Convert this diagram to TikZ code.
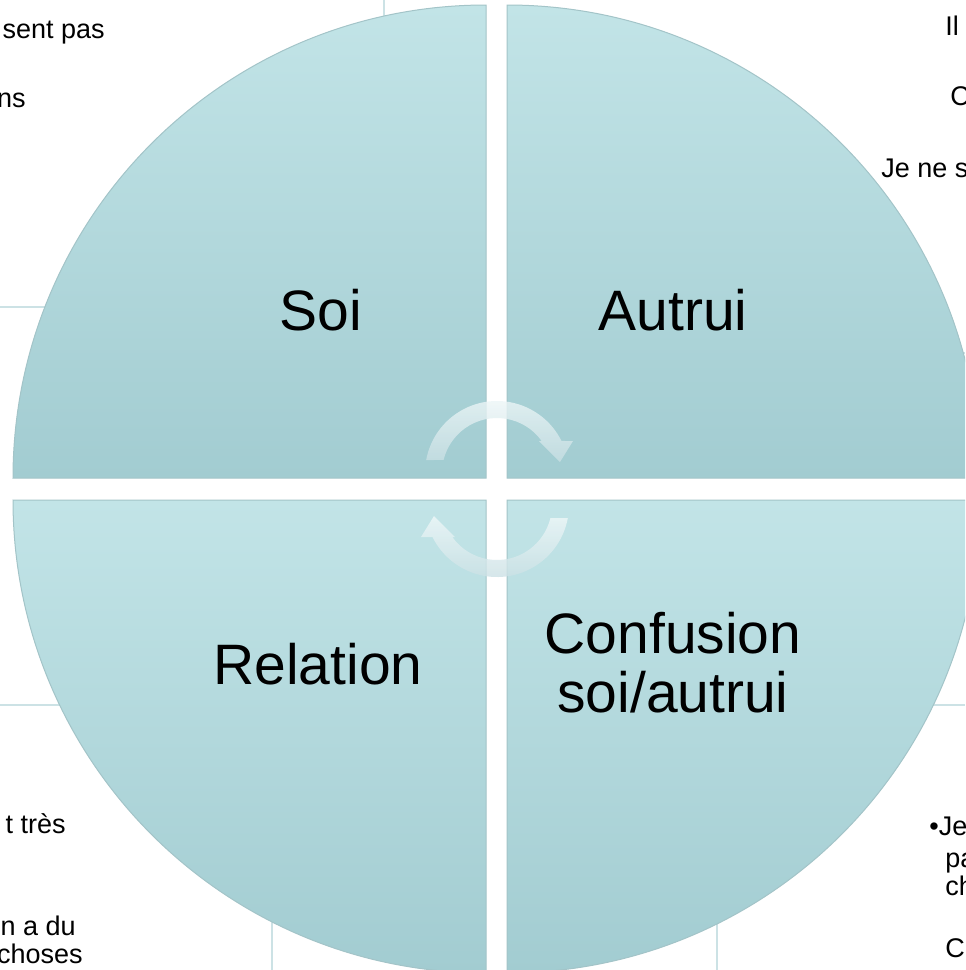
\documentclass[tikz,border=0pt]{standalone}
\usepackage{fontspec}
\setmainfont{Liberation Sans}
\usepackage{tikz}
\usetikzlibrary{positioning,calc}

\definecolor{quadtop}{HTML}{C2E4E7}
\definecolor{quadbot}{HTML}{A2CCD1}
\definecolor{quadedge}{HTML}{A3C4C8}
\definecolor{gridline}{HTML}{CCE2E5}
\definecolor{arrowtop}{HTML}{F0F8F9}
\definecolor{arrowbot}{HTML}{C8DFE3}

\tikzset{
    quadrant/.style={top color=quadtop, bottom color=quadbot, draw=quadedge, line width=0.5pt},
    biglabel/.style={font=\fontsize{28.5}{29.5}\selectfont, align=center, anchor=base},
    backtext/.style={font=\fontsize{13.5}{15}\selectfont, inner sep=0pt, anchor=base},
    cyclearrow/.style={top color=arrowtop, bottom color=arrowbot, opacity=0.8}
}

\begin{document}
\begin{tikzpicture}[x=0.5pt,y=-0.5pt]
            \useasboundingbox (0,0) rectangle (965,970);
            \clip (0,0) rectangle (965,970);
            \fill[white] (0,0) rectangle (965,970);

            \draw[gridline, line width=0.75pt] (384,0) -- (384,30);
            \draw[gridline, line width=0.75pt] (0,307) -- (60,307);
            \draw[gridline, line width=0.75pt] (0,705) -- (80,705);
            \draw[gridline, line width=0.75pt] (272,900) -- (272,970);
            \draw[gridline, line width=0.75pt] (717,900) -- (717,970);
            \draw[gridline, line width=0.75pt] (920,705) -- (965,705);
            \draw[gridline, line width=0.75pt] (940,353) -- (965,353);

            \node[backtext, anchor=base east] (tla) at (105,38) {sent pas};
            \node[backtext, anchor=base east] (tlb) at (26,107) {ns};
            \node[backtext, anchor=base west] (tra) at (945,35) {Il};
            \node[backtext, anchor=base west] (trb) at (950,105) {C};
            \node[backtext, anchor=base west] (trc) at (881,177) {Je ne s};
            \node[backtext, anchor=base east] (bla) at (66,833) {t très};
            \node[backtext, anchor=base east] (blb) at (76,935) {n a du};
            \node[backtext, anchor=base east] (blc) at (83,963) {choses};
            \node[backtext, anchor=base west] (bra) at (929,835) {•Je};
            \node[backtext, anchor=base west] (brb) at (945,867) {pa};
            \node[backtext, anchor=base west] (brc) at (945,895) {ch};
            \node[backtext, anchor=base west] (brd) at (945,957) {C};

            \path[quadrant] (486,478) -- (13,478) arc[start angle=180, end angle=270, radius=473] -- cycle;
            \path[quadrant] (507,478) -- (507,5) arc[start angle=270, end angle=360, radius=473] -- cycle;
            \path[quadrant] (486,500) -- (13,500) arc[start angle=180, end angle=90, radius=473] -- cycle;
            \path[quadrant] (507,500) -- (980,500) arc[start angle=0, end angle=90, radius=473] -- cycle;

            \node[biglabel] (soi) at (321,330) {Soi};
            \node[biglabel] (autrui) at (673,330) {Autrui};
            \node[biglabel] (relation) at (318,684) {Relation};
            \node[biglabel] (confusion) at (673,712) {Confusion\\soi/autrui};

            \begin{scope}[shift={(497,473)}, yscale=-1]
                \path[cyclearrow] (169.6:72) arc[start angle=169.6, end angle=26.4, radius=72]
                    -- (76,32) -- (63,11) -- (42,32) -- (35.6:55)
                    arc[start angle=35.6, end angle=166.3, radius=55] -- cycle;
            \end{scope}
            \begin{scope}[shift={(497,505)}, yscale=-1, rotate=180]
                \path[cyclearrow] (169.6:72) arc[start angle=169.6, end angle=26.4, radius=72]
                    -- (76,32) -- (63,11) -- (42,32) -- (35.6:55)
                    arc[start angle=35.6, end angle=166.3, radius=55] -- cycle;
            \end{scope}
        \end{tikzpicture}
\end{document}
